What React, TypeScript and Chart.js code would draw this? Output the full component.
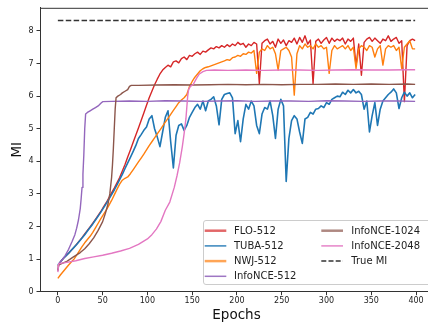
import React, { useEffect, useRef } from "react";
import { Chart, registerables } from "chart.js";

Chart.register(...registerables);

// ---------- data ----------
const epochs = [
  0, 3, 6, 9, 12, 15, 18, 21, 24, 27,
  30, 33, 36, 39, 42, 45, 48, 51, 54, 57,
  60, 63, 66, 69, 72, 75, 78, 81, 84, 87,
  90, 93, 96, 99, 102, 105, 108, 111, 114, 117,
  120, 123, 126, 129, 132, 135, 138, 141, 144, 147,
  150, 153, 156, 159, 162, 165, 168, 171, 174, 177,
  180, 183, 186, 189, 192, 195, 198, 201, 204, 207,
  210, 213, 216, 219, 222, 225, 228, 231, 234, 237,
  240, 243, 246, 249, 252, 255, 258, 261, 264, 267,
  270, 273, 276, 279, 282, 285, 288, 291, 294, 297,
  300, 303, 306, 309, 312, 315, 318, 321, 324, 327,
  330, 333, 336, 339, 342, 345, 348, 351, 354, 357,
  360, 363, 366, 369, 372, 375, 378, 381, 384, 387,
  390, 393, 396, 399,
];

const flo512 = [
  0.78, 0.92, 1.02, 1.1, 1.18, 1.27, 1.36, 1.46, 1.56, 1.66,
  1.77, 1.88, 1.99, 2.1, 2.22, 2.34, 2.46, 2.6, 2.73, 2.88,
  3.03, 3.18, 3.34, 3.5, 3.7, 3.9, 4.13, 4.35, 4.58, 4.8,
  5.02, 5.25, 5.48, 5.72, 5.95, 6.15, 6.35, 6.52, 6.68, 6.8,
  6.88, 6.95, 6.9, 7.05, 7.08, 7.02, 7.15, 7.2, 7.12, 7.25,
  7.22, 7.3, 7.35, 7.28, 7.38, 7.35, 7.42, 7.48, 7.45, 7.52,
  7.48, 7.55, 7.5, 7.58, 7.52, 7.6, 7.55, 7.65, 7.58, 7.62,
  7.5, 7.6, 7.55, 7.65, 7.6, 6.38, 7.62, 7.7, 7.75, 7.6,
  7.68, 7.5, 7.75, 7.62, 7.72, 7.55, 7.7, 7.65, 7.78, 7.6,
  7.8, 7.65, 7.85, 7.6, 7.72, 6.38, 7.68, 7.75, 7.62, 7.72,
  7.8, 7.62, 7.78, 7.68, 7.75, 7.7, 7.78, 7.6, 7.75, 7.68,
  7.78, 6.94, 7.6, 6.64, 7.65, 7.75, 7.8, 7.68, 7.78, 7.7,
  7.62, 7.75, 7.7, 7.85, 7.68, 7.75, 7.8, 7.62, 7.7, 5.83,
  7.55, 7.7, 7.75, 7.7,
];

const tuba512 = [
  0.82, 0.92, 1.02, 1.1, 1.18, 1.27, 1.36, 1.45, 1.55, 1.65,
  1.75, 1.86, 1.97, 2.08, 2.2, 2.32, 2.44, 2.57, 2.7, 2.84,
  2.98, 3.12, 3.28, 3.44, 3.6, 3.78, 3.95, 4.12, 4.3, 4.48,
  4.7, 4.82, 4.95, 5.05, 5.3, 5.4, 5.0, 4.75, 4.45, 4.9,
  5.35, 5.55, 4.6, 3.8, 4.8, 5.1, 5.15, 4.95, 5.1, 5.35,
  5.5, 5.65, 5.75, 5.6, 5.85, 5.55, 5.85, 5.9, 5.98, 5.7,
  5.12, 5.9, 6.05, 6.08, 6.1, 5.95, 4.85, 5.25, 4.6, 5.3,
  5.75, 5.6, 5.85, 5.7, 5.1, 4.85, 5.45, 5.65, 5.6, 5.85,
  5.4, 4.7, 5.6, 5.9, 5.7, 3.38, 4.7, 5.25, 5.4, 5.3,
  4.9, 4.55, 5.3, 5.35, 5.5, 5.45, 5.6, 5.62, 5.7, 5.65,
  5.8, 5.75, 5.9, 5.95, 6.0, 5.98, 6.12, 6.05, 6.18, 6.1,
  6.2, 6.1, 6.15, 6.05, 5.6, 5.85, 4.9, 5.4, 5.8, 5.1,
  5.6, 5.85, 5.95, 6.05, 6.12, 6.22, 6.1, 5.62, 5.95, 6.12,
  6.0, 6.1, 5.95, 6.05,
];

const nwj512 = [
  0.41, 0.52, 0.62, 0.72, 0.82, 0.91, 1.0, 1.12, 1.25, 1.38,
  1.5, 1.6, 1.7, 1.82, 1.96, 2.1, 2.24, 2.37, 2.5, 2.65,
  2.8, 2.97, 3.14, 3.3, 3.42, 3.48, 3.52, 3.62, 3.74, 3.86,
  3.98, 4.1, 4.22, 4.35, 4.48, 4.6, 4.72, 4.84, 4.96, 5.08,
  5.2, 5.32, 5.44, 5.56, 5.68, 5.8, 5.88, 5.95, 6.05, 6.3,
  6.45, 6.58, 6.68, 6.78, 6.84, 6.88, 6.9, 6.93, 6.96, 6.99,
  7.02, 7.05, 7.08, 7.12, 7.1, 7.18, 7.2, 7.25, 7.22, 7.3,
  7.28, 7.35, 7.32, 7.4, 6.7, 7.35, 7.45, 7.4, 7.55, 7.45,
  7.5, 7.3, 6.8, 7.4, 7.45, 7.5, 7.4, 7.2, 6.03, 7.3,
  7.55, 7.45, 7.6, 7.5, 7.55, 7.45, 7.6, 7.5, 7.55, 7.45,
  7.5, 6.7, 7.4, 7.55, 7.45, 7.5, 7.55, 7.45, 7.55, 7.4,
  7.5, 6.85, 7.45, 7.55, 7.5, 7.4, 7.55, 7.5, 7.2, 7.45,
  7.55, 6.95, 7.45, 7.55, 7.5, 7.55, 7.4, 7.5, 6.85, 7.5,
  7.6, 7.7, 7.45, 7.45,
];

const infoNce512Epochs = [
  0, 1, 4, 8, 12, 16, 19, 21, 23, 25, 26, 27, 28, 29, 30, 31, 33, 36, 39, 42,
  45, 48, 50, 60, 80, 100, 120, 140, 160, 180, 200, 220, 240, 260, 280, 300,
  320, 340, 360, 380, 399,
];
const infoNce512 = [
  0.65, 0.85, 0.95, 1.1, 1.3, 1.55, 1.75, 1.95, 2.2, 2.55, 2.85, 3.2, 3.6, 4.2, 5.0, 5.45, 5.5, 5.55, 5.6, 5.65,
  5.7, 5.78, 5.83, 5.84, 5.85, 5.84, 5.86, 5.85, 5.84, 5.85, 5.86, 5.84, 5.85, 5.85, 5.84, 5.86,
  5.85, 5.84, 5.85, 5.85, 5.84,
];

const infoNce1024Epochs = [
  0, 1, 10, 17, 25, 30, 35, 40, 45, 50, 53, 56, 58, 60, 61, 62, 63, 64, 65, 67,
  70, 72, 75, 78, 80, 82, 90, 110, 130, 150, 170, 190, 210, 230, 250, 270, 290,
  310, 330, 350, 370, 390, 399,
];
const infoNce1024 = [
  0.65, 0.82, 0.93, 1.06, 1.2, 1.32, 1.47, 1.65, 1.88, 2.15, 2.4, 2.69, 3.0, 3.5, 3.9, 4.4, 5.0, 5.6, 5.95, 6.0,
  6.05, 6.1, 6.15, 6.2, 6.3, 6.33, 6.33, 6.34, 6.35, 6.34, 6.35, 6.36, 6.35, 6.36, 6.35, 6.36, 6.36,
  6.37, 6.36, 6.37, 6.36, 6.37, 6.36,
];

const infoNce2048Epochs = [
  0, 1, 10, 20, 30, 40, 50, 60, 70, 80, 90, 100, 105, 110, 115, 120, 125, 130, 133, 136,
  139, 141, 143, 144, 145, 146, 148, 151, 155, 158, 162, 166, 175, 190, 210, 230, 250,
  270, 290, 310, 330, 350, 370, 390, 399,
];
const infoNce2048 = [
  0.6, 0.86, 0.9, 0.95, 1.02, 1.07, 1.12, 1.18, 1.25, 1.33, 1.45, 1.62, 1.75, 1.92, 2.15, 2.5, 2.75, 3.2, 3.55, 3.95,
  4.45, 4.85, 5.3, 5.65, 6.0, 6.2, 6.3, 6.35, 6.55, 6.68, 6.75, 6.79, 6.8, 6.79, 6.8, 6.79, 6.8,
  6.8, 6.79, 6.8, 6.81, 6.8, 6.8, 6.81, 6.81,
];

const trueMIEpochs = [0, 399];
const trueMI = [8.32, 8.32];

const seriesLabels = [
  "FLO-512",
  "TUBA-512",
  "NWJ-512",
  "InfoNCE-512",
  "InfoNCE-1024",
  "InfoNCE-2048",
  "True MI",
];

const xTickValues = [0, 50, 100, 150, 200, 250, 300, 350, 400];
const yTickValues = [0, 1, 2, 3, 4, 5, 6, 7, 8];

// ---------- styles ----------
const CANVAS_W = 433; // axes extend slightly past the 428px photo, like the reference crop
const CANVAS_H = 328;
const COLORS = ["#d62728", "#1f77b4", "#ff7f0e", "#9467bd", "#8c564b", "#e377c2", "#333333"];
const LEGEND_COLORS = [
  "rgba(214,39,40,0.7)",
  "rgba(31,119,180,0.9)",
  "rgba(255,127,14,0.7)",
  "rgba(148,103,189,0.9)",
  "rgba(140,86,75,0.7)",
  "rgba(227,119,194,0.9)",
  "#333333",
];
const LEGEND_WIDTHS = [2.5, 1.5, 2.5, 1.5, 2.5, 1.5, 1.5];
const LINE_WIDTHS = [1.4, 1.6, 1.4, 1.4, 1.4, 1.4, 1.5];
const FONT = "'DejaVu Sans', sans-serif";
const AXIS_COLOR = "#333333";
const TEXT_COLOR = "#222222";

const toPoints = (xs: number[], ys: number[]) => xs.map((x, i) => ({ x, y: ys[i] }));

const frameAndLegend = {
  id: "frameAndLegend",
  afterDraw(chart: any) {
    const ctx = chart.ctx as CanvasRenderingContext2D;
    const a = chart.chartArea;
    ctx.save();
    // top spine
    ctx.strokeStyle = AXIS_COLOR;
    ctx.lineWidth = 1;
    ctx.beginPath();
    ctx.moveTo(a.left, a.top + 0.5);
    ctx.lineTo(a.right, a.top + 0.5);
    ctx.stroke();

    // legend frame
    const bx = 203.5, by = 220.5, bw = 240, bh = 64, r = 2.5;
    ctx.beginPath();
    ctx.moveTo(bx + r, by);
    ctx.lineTo(bx + bw - r, by);
    ctx.arcTo(bx + bw, by, bx + bw, by + r, r);
    ctx.lineTo(bx + bw, by + bh - r);
    ctx.arcTo(bx + bw, by + bh, bx + bw - r, by + bh, r);
    ctx.lineTo(bx + r, by + bh);
    ctx.arcTo(bx, by + bh, bx, by + bh - r, r);
    ctx.lineTo(bx, by + r);
    ctx.arcTo(bx, by, bx + r, by, r);
    ctx.closePath();
    ctx.fillStyle = "rgba(255,255,255,0.8)";
    ctx.fill();
    ctx.strokeStyle = "#cccccc";
    ctx.lineWidth = 1;
    ctx.stroke();

    ctx.font = `10px ${FONT}`;
    ctx.textBaseline = "middle";
    ctx.textAlign = "left";
    seriesLabels.forEach((label, i) => {
      const col = i < 4 ? 0 : 1;
      const row = i < 4 ? i : i - 4;
      const y = 230.7 + row * 15.2;
      const hx0 = col ? 321.3 : 204.7;
      const hx1 = col ? 343 : 226.3;
      const tx = col ? 351.3 : 234;
      ctx.strokeStyle = LEGEND_COLORS[i];
      ctx.lineWidth = LEGEND_WIDTHS[i];
      ctx.setLineDash(i === 6 ? [5, 2.2] : []);
      ctx.beginPath();
      ctx.moveTo(hx0, y);
      ctx.lineTo(hx1, y);
      ctx.stroke();
      ctx.setLineDash([]);
      ctx.fillStyle = TEXT_COLOR;
      ctx.fillText(label, tx, y + 0.5);
    });
    ctx.restore();
  },
};

export default function App() {
  const canvasRef = useRef<HTMLCanvasElement | null>(null);

  useEffect(() => {
    if (!canvasRef.current) return;
    const seriesData = [
      toPoints(epochs, flo512),
      toPoints(epochs, tuba512),
      toPoints(epochs, nwj512),
      toPoints(infoNce512Epochs, infoNce512),
      toPoints(infoNce1024Epochs, infoNce1024),
      toPoints(infoNce2048Epochs, infoNce2048),
      toPoints(trueMIEpochs, trueMI),
    ];
    const datasets = seriesData.map((data, i) => ({
      label: seriesLabels[i],
      data,
      borderColor: COLORS[i],
      backgroundColor: COLORS[i],
      borderWidth: LINE_WIDTHS[i],
      borderDash: i === 6 ? [5.5, 2.4] : [],
      pointRadius: 0,
      tension: 0,
      fill: false,
      borderJoinStyle: "round" as const,
      order: seriesData.length - i,
    }));

    const chart = new Chart(canvasRef.current, {
      type: "line",
      data: { datasets },
      options: {
        animation: false,
        responsive: false,
        maintainAspectRatio: false,
        devicePixelRatio: 1,
        layout: { padding: { top: 5, right: 0, left: 0, bottom: 0 } },
        plugins: { legend: { display: false }, tooltip: { enabled: false } },
        scales: {
          x: {
            type: "linear",
            min: -19.95,
            max: 418.95,
            afterFit: (scale: any) => {
              scale.height = 36.3;
              scale.paddingLeft = 0;
              scale.paddingRight = 0;
            },
            afterBuildTicks: (scale: any) => {
              scale.ticks = xTickValues.map((v) => ({ value: v }));
            },
            ticks: {
              font: { family: FONT, size: 8 },
              color: TEXT_COLOR,
              padding: 1,
              maxRotation: 0,
              autoSkip: false,
            },
            grid: {
              display: true,
              drawOnChartArea: false,
              drawTicks: true,
              tickLength: 3.5,
              tickColor: AXIS_COLOR,
              tickWidth: 1,
            },
            border: { display: true, color: AXIS_COLOR, width: 1 },
            title: {
              display: true,
              text: "Epochs",
              font: { family: FONT, size: 13.5 },
              color: "#111111",
              padding: { top: 0, bottom: 4.9 },
            },
          },
          y: {
            type: "linear",
            min: 0,
            max: 8.71,
            afterFit: (scale: any) => {
              scale.width = 40;
            },
            afterBuildTicks: (scale: any) => {
              scale.ticks = yTickValues.map((v) => ({ value: v }));
            },
            ticks: {
              font: { family: FONT, size: 8 },
              color: TEXT_COLOR,
              padding: 3,
              autoSkip: false,
            },
            grid: {
              display: true,
              drawOnChartArea: false,
              drawTicks: true,
              tickLength: 3.5,
              tickColor: AXIS_COLOR,
              tickWidth: 1,
            },
            border: { display: true, color: AXIS_COLOR, width: 1 },
            title: {
              display: true,
              text: "MI",
              font: { family: FONT, size: 13.5 },
              color: "#111111",
              padding: { top: 9.4, bottom: 0 },
            },
          },
        },
      },
      plugins: [frameAndLegend],
    });
    return () => chart.destroy();
  }, []);

  return (
    <div
      style={{
        position: "absolute",
        left: 0,
        top: 0,
        width: 428,
        height: CANVAS_H,
        overflow: "hidden",
        background: "#ffffff",
      }}
    >
      <canvas
        ref={canvasRef}
        width={CANVAS_W}
        height={CANVAS_H}
        style={{ display: "block", width: CANVAS_W, height: CANVAS_H }}
      />
    </div>
  );
}
